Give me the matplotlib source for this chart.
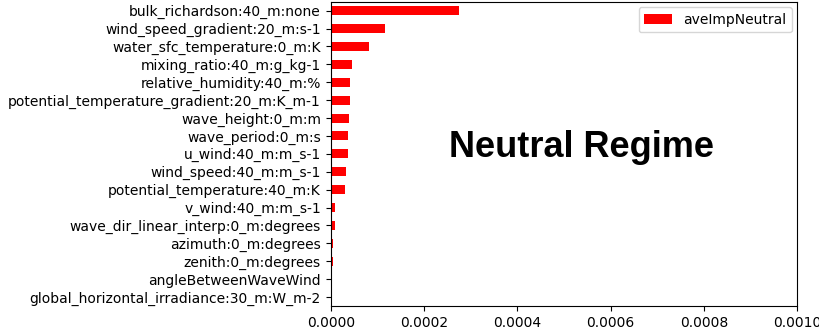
import matplotlib
matplotlib.use("Agg")
import matplotlib.pyplot as plt

features = [
    "bulk_richardson:40_m:none",
    "wind_speed_gradient:20_m:s-1",
    "water_sfc_temperature:0_m:K",
    "mixing_ratio:40_m:g_kg-1",
    "relative_humidity:40_m:%",
    "potential_temperature_gradient:20_m:K_m-1",
    "wave_height:0_m:m",
    "wave_period:0_m:s",
    "u_wind:40_m:m_s-1",
    "wind_speed:40_m:m_s-1",
    "potential_temperature:40_m:K",
    "v_wind:40_m:m_s-1",
    "wave_dir_linear_interp:0_m:degrees",
    "azimuth:0_m:degrees",
    "zenith:0_m:degrees",
    "angleBetweenWaveWind",
    "global_horizontal_irradiance:30_m:W_m-2",
]
aveImpNeutral = [
    0.0002755, 0.0001170, 0.0000815, 0.0000450, 0.0000420, 0.0000418,
    0.0000392, 0.0000364, 0.0000363, 0.0000334, 0.0000300, 0.0000092,
    0.0000091, 0.0000056, 0.0000055, 0.0000034, 0.0000006,
]
xticks = [0.0, 0.0002, 0.0004, 0.0006, 0.0008, 0.0010]

fig = plt.figure(figsize=(8.19, 3.32), dpi=100)
ax = fig.add_axes([330.7 / 819, 1 - 306 / 332, 466.6 / 819, 304.3 / 332])

pos = list(range(len(features)))
ax.barh(pos, aveImpNeutral, height=0.5, color="red", label="aveImpNeutral")
ax.set_yticks(pos)
ax.set_yticklabels(features, fontsize=10)
ax.set_ylim(len(features) - 0.5, -0.5)

ax.set_xlim(0, 0.0010)
ax.set_xticks(xticks)
ax.set_xticklabels(["%.4f" % t for t in xticks], fontsize=10)

ax.legend(loc="upper right", fontsize=10, borderaxespad=0.4)

# annotation pasted on the chart
ax.text(0.537, 0.4908, "Neutral Regime", transform=ax.transAxes, ha="center", va="baseline",
        fontsize=26, fontweight="bold", family="Liberation Sans")

fig.savefig("out.png", dpi=100)
